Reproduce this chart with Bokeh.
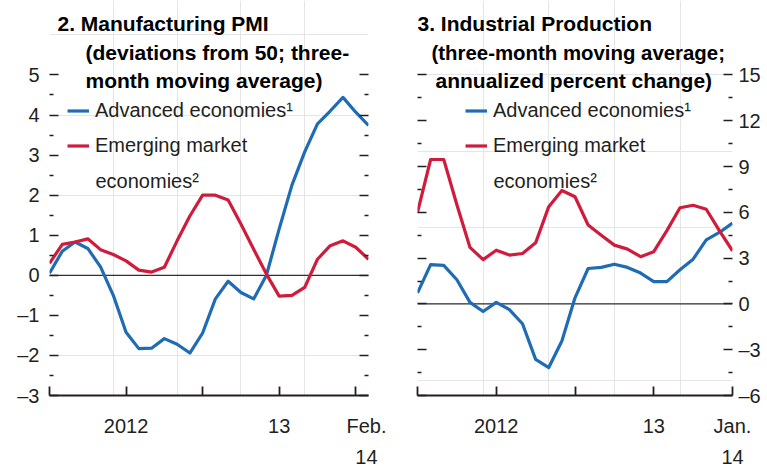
from bokeh.plotting import figure
from bokeh.models import (Range1d, FixedTicker, LinearAxis, Span, Label,
                          Legend, LegendItem)
from bokeh.layouts import row
from bokeh.embed import file_html
from bokeh.resources import INLINE

FONT = "Liberation Sans"
TXT = "#231f20"
BLUE = "#1f6cb5"
RED = "#d01c3c"

# ---- data ----
# Panel 2: Manufacturing PMI, months Jan 2012 .. Feb 2014 (index 0..25)
pmi_months = list(range(26))
pmi_adv = [0.05, 0.6, 0.83, 0.67, 0.21, -0.5, -1.42, -1.83, -1.82, -1.58, -1.72,
           -1.94, -1.44, -0.59, -0.15, -0.43, -0.59, 0.0, 1.16, 2.25, 3.08, 3.78,
           4.1, 4.44, 4.07, 3.74]
pmi_em = [0.3, 0.77, 0.83, 0.91, 0.64, 0.52, 0.36, 0.13, 0.08, 0.2, 0.86, 1.48,
          2.0, 2.0, 1.88, 1.28, 0.65, 0.03, -0.52, -0.5, -0.3, 0.4, 0.74, 0.86,
          0.7, 0.4]
# Panel 3: Industrial production, months Jan 2012 .. Jan 2014 (index 0..24)
ip_months = list(range(25))
ip_adv = [0.72, 2.57, 2.52, 1.58, 0.1, -0.5, 0.1, -0.37, -1.3, -3.63, -4.17,
          -2.43, 0.4, 2.32, 2.39, 2.6, 2.39, 2.02, 1.46, 1.46, 2.24, 2.93, 4.2,
          4.68, 5.29]
ip_em = [6.0, 9.46, 9.46, 6.5, 3.7, 2.9, 3.52, 3.2, 3.3, 4.0, 6.37, 7.43, 7.02,
         5.17, 4.5, 3.85, 3.59, 3.09, 3.42, 4.8, 6.3, 6.46, 6.2, 4.8, 3.48]

x_ticks = [0, 6, 12, 18, 24]
pmi_x_labels = {6: "2012", 18: "13", 25: "Feb.\n14"}
ip_x_labels = {6: "2012", 18: "13", 24: "Jan.\n14"}

pmi_yticks = [-3, -2, -1, 0, 1, 2, 3, 4, 5]
pmi_yminor = [-2.5, -1.5, -0.5, 0.5, 1.5, 2.5, 3.5, 4.5]
ip_yticks = [-6, -3, 0, 3, 6, 9, 12, 15]
ip_yminor = [-4.5, -1.5, 1.5, 4.5, 7.5, 10.5, 13.5]


def lab(t):
    return str(t).replace("-", "\u2013")


def y_axis(ticks, minor, show_labels, standoff):
    ax = LinearAxis(ticker=FixedTicker(ticks=ticks, minor_ticks=minor),
                    axis_line_color=None,
                    major_tick_in=9, major_tick_out=0,
                    minor_tick_in=4, minor_tick_out=0,
                    major_tick_line_color=TXT, minor_tick_line_color=TXT,
                    major_tick_line_width=1.5, minor_tick_line_width=1.5)
    if show_labels:
        ax.major_label_overrides = {t: lab(t) for t in ticks}
        ax.major_label_text_font = FONT
        ax.major_label_text_font_size = "20px"
        ax.major_label_text_color = TXT
        ax.major_label_standoff = standoff
    else:
        ax.major_label_overrides = {t: "" for t in ticks}
        ax.major_label_text_font_size = "0px"
        ax.major_label_standoff = 0
    return ax


def panel(width, xr, yr, bl, br, yticks, yminor, label_side, months, adv, em,
          titles, legend_x, x_labels):
    p = figure(width=width, height=471, x_range=Range1d(*xr), y_range=Range1d(*yr),
               output_backend="svg", toolbar_location=None,
               min_border_left=bl, min_border_right=br, min_border_top=0,
               min_border_bottom=73, x_axis_location=None, y_axis_location=None)
    p.outline_line_color = None
    p.background_fill_color = "white"
    p.border_fill_color = "white"

    p.add_layout(y_axis(yticks, yminor, label_side == "left", 10), "left")
    p.add_layout(y_axis(yticks, yminor, label_side == "right", 6), "right")

    # axis line with inward tick marks
    xa = LinearAxis(ticker=FixedTicker(ticks=x_ticks, minor_ticks=[]),
                    major_label_overrides={t: "" for t in x_ticks},
                    axis_line_color=TXT, axis_line_width=1.8,
                    major_tick_in=9, major_tick_out=0,
                    major_tick_line_color=TXT, major_tick_line_width=1.8,
                    major_label_text_font_size="0px", major_label_standoff=0)
    p.add_layout(xa, "below")
    # date labels (no marks)
    xl = LinearAxis(ticker=FixedTicker(ticks=list(x_labels.keys()), minor_ticks=[]),
                    major_label_overrides=x_labels,
                    axis_line_color=None, major_tick_in=0, major_tick_out=0,
                    major_label_text_font=FONT, major_label_text_font_size="20px",
                    major_label_text_color=TXT, major_label_standoff=19,
                    major_label_text_line_height=1.45)
    p.add_layout(xl, "below")

    zero = Span(location=0, dimension="width", line_color="black", line_width=1,
                level="underlay")
    p.add_layout(zero)

    rb = p.line(months, adv, line_color=BLUE, line_width=3.2, line_join="round")
    rr = p.line(months, em, line_color=RED, line_width=3.2, line_join="round")

    leg = Legend(items=[LegendItem(label="Advanced economies\u00b9", renderers=[rb]),
                        LegendItem(label="Emerging market", renderers=[rr])],
                 location=(legend_x, 232), padding=0, margin=0, spacing=0,
                 glyph_width=22, glyph_height=35, label_height=35,
                 label_standoff=6, label_text_font=FONT,
                 label_text_font_size="20px", label_text_color=TXT,
                 background_fill_alpha=0, border_line_color=None)
    p.add_layout(leg)
    p.add_layout(Label(x=legend_x + 28, y=215, x_units="screen", y_units="screen",
                       text="economies\u00b2", text_font=FONT,
                       text_font_size="20px", text_color=TXT,
                       text_baseline="middle"))

    for (tx, ty, t, fs) in titles:
        p.add_layout(Label(x=tx, y=ty, x_units="screen", y_units="screen", text=t,
                           text_font=FONT, text_font_style="bold",
                           text_font_size=fs, text_color="black",
                           text_baseline="alphabetic"))
    return p


p1 = panel(386, (0, 25), (-3, 6.858), 49, 18, pmi_yticks, pmi_yminor, "left",
           pmi_months, pmi_adv, pmi_em,
           [(8, 372, "2. Manufacturing PMI", "21px"),
            (36, 343, "(deviations from 50; three-", "21px"),
            (36, 315, "month moving average)", "21px")],
           18, pmi_x_labels)

p2 = panel(378, (0, 24), (-6, 19.876), 31, 32, ip_yticks, ip_yminor, "right",
           ip_months, ip_adv, ip_em,
           [(0, 372, "3. Industrial Production", "21px"),
            (14, 343, "(three-month moving average;", "20.4px"),
            (18, 315, "annualized percent change)", "21px")],
           48, ip_x_labels)

layout = row(p1, p2)
open("out.html", "w").write(file_html(layout, INLINE))
